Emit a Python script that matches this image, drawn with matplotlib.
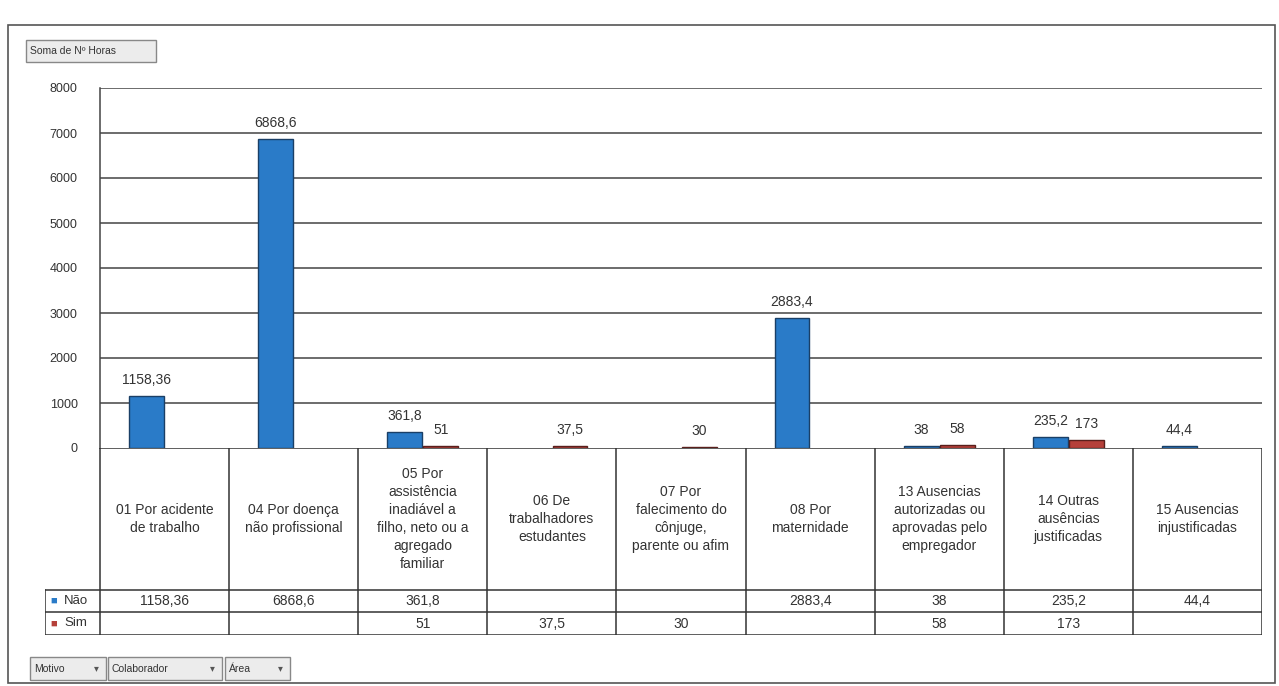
import numpy as np
import matplotlib
matplotlib.use("Agg")
import matplotlib.pyplot as plt
from matplotlib.patches import Rectangle

plt.rcParams["font.family"] = ["Liberation Sans", "DejaVu Sans"]

# data (Soma de Nº Horas)
categories = [
    "01 Por acidente\nde trabalho",
    "04 Por doença\nnão profissional",
    "05 Por\nassistência\ninadiável a\nfilho, neto ou a\nagregado\nfamiliar",
    "06 De\ntrabalhadores\nestudantes",
    "07 Por\nfalecimento do\ncônjuge,\nparente ou afim",
    "08 Por\nmaternidade",
    "13 Ausencias\nautorizadas ou\naprovadas pelo\nempregador",
    "14 Outras\nausências\njustificadas",
    "15 Ausencias\ninjustificadas",
]
nao = [1158.36, 6868.6, 361.8, np.nan, np.nan, 2883.4, 38, 235.2, 44.4]
sim = [np.nan, np.nan, 51, 37.5, 30, np.nan, 58, 173, np.nan]
series_names = ["Não", "Sim"]
yticks = [0, 1000, 2000, 3000, 4000, 5000, 6000, 7000, 8000]

BLUE = "#2a7bc8"
RED = "#b5403a"
GRID = "#444444"
TXT = "#333333"

W, H = 1279, 686
fig = plt.figure(figsize=(W / 100, H / 100), dpi=100)


def fx(px):
    return px / W


def fy(py):
    return 1 - py / H


def fmt(v):
    return ("%g" % v).replace(".", ",")


# outer frame of the pivot chart
fig.patches.append(Rectangle((fx(8), fy(683)), fx(1275) - fx(8), fy(25) - fy(683),
                             transform=fig.transFigure, fill=False,
                             edgecolor="#555555", lw=1.2))

# chart area
x_left, x_right = 100, 1262
y_top, y_zero = 88, 448
ax = fig.add_axes([fx(x_left), fy(y_zero), fx(x_right) - fx(x_left),
                   fy(y_top) - fy(y_zero)])
n = len(categories)
x = np.arange(n) + 0.5
bw = 0.27
off = 0.14
ax.bar(x - off, nao, bw, color=BLUE, edgecolor="#1a3f66", lw=1.0)
ax.bar(x + off, sim, bw, color=RED, edgecolor="#5a1f1c", lw=1.0)
for xs, vals in [(x - off, nao), (x + off, sim)]:
    for xi, v in zip(xs, vals):
        if not np.isnan(v):
            ax.text(xi, v + 200, fmt(v), ha="center", va="bottom",
                    fontsize=10, color=TXT)
ax.set_xlim(0, n)
ax.set_ylim(0, 8000)
ax.set_yticks(yticks)
ax.set_yticklabels([str(t) for t in yticks], fontsize=9, color=TXT)
ax.tick_params(axis="y", length=0, pad=16)
ax.set_xticks([])
for yt in yticks[1:]:
    ax.axhline(yt, color=GRID, lw=1.1, zorder=0)
for s in ["top", "right", "bottom"]:
    ax.spines[s].set_visible(False)
ax.spines["left"].set_color(GRID)
ax.spines["left"].set_linewidth(1.1)

# data table below the chart
t_left = 45
tab = fig.add_axes([fx(t_left), fy(635), fx(x_right) - fx(t_left),
                    fy(448) - fy(635)])
key_w = (x_left - t_left) / ((x_right - x_left) / n)
tab.set_xlim(-key_w, n)
tab.set_ylim(635, 448)
tab.axis("off")
lc = dict(color="#333333", lw=1.1)
row_y = [448, 590, 612, 635]
for ry in row_y:
    tab.plot([0 if ry == 448 else -key_w, n], [ry, ry], **lc)
for i in range(n + 1):
    tab.plot([i, i], [448, 635], **lc)
tab.plot([-key_w, -key_w], [590, 635], **lc)
for i, c in enumerate(categories):
    tab.text(i + 0.5, 519, c, ha="center", va="center", fontsize=10,
             color=TXT, linespacing=1.35)
for r, (vals, col, name) in enumerate(zip([nao, sim], [BLUE, RED],
                                          series_names)):
    yc = (row_y[r + 1] + row_y[r + 2]) / 2
    tab.text(-key_w + 0.04, yc, "■", color=col, fontsize=8, va="center",
             ha="left")
    tab.text(-key_w + 0.15, yc, name, color=TXT, fontsize=9.5, va="center",
             ha="left")
    for i, v in enumerate(vals):
        if not np.isnan(v):
            tab.text(i + 0.5, yc, fmt(v), ha="center", va="center",
                     fontsize=10, color=TXT)


# field buttons
def button(x0, y0, x1, y1, label, arrow=False):
    fig.patches.append(Rectangle((fx(x0), fy(y1)), fx(x1) - fx(x0),
                                 fy(y0) - fy(y1), transform=fig.transFigure,
                                 facecolor="#ececec", edgecolor="#888888",
                                 lw=1.0))
    fig.text(fx(x0 + 4), fy((y0 + y1) / 2), label, fontsize=7.5, color=TXT,
             va="center", ha="left")
    if arrow:
        fig.text(fx(x1 - 10), fy((y0 + y1) / 2), "▾", fontsize=7,
                 color="#555555", va="center", ha="center")


button(26, 40, 156, 62, "Soma de Nº Horas")
button(30, 657, 106, 680, "Motivo", True)
button(108, 657, 222, 680, "Colaborador", True)
button(225, 657, 290, 680, "Área", True)

fig.savefig("out.png", dpi=100)
